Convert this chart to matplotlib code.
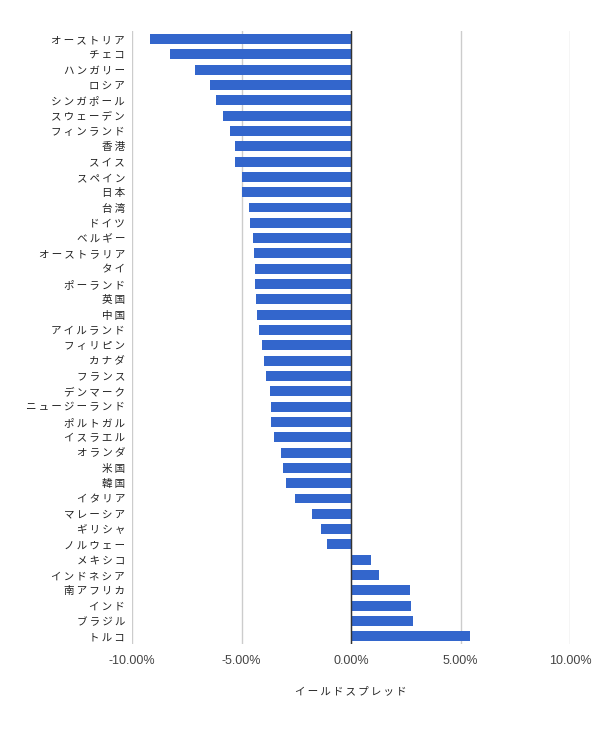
import matplotlib
matplotlib.use("Agg")
import matplotlib.pyplot as plt
from matplotlib.ticker import FuncFormatter

plt.rcParams['font.family'] = ['Noto Sans CJK JP', 'DejaVu Sans']

countries = ["オーストリア", "チェコ", "ハンガリー", "ロシア", "シンガポール", "スウェーデン",
             "フィンランド", "香港", "スイス", "スペイン", "日本", "台湾", "ドイツ", "ベルギー",
             "オーストラリア", "タイ", "ポーランド", "英国", "中国", "アイルランド", "フィリピン",
             "カナダ", "フランス", "デンマーク", "ニュージーランド", "ポルトガル", "イスラエル",
             "オランダ", "米国", "韓国", "イタリア", "マレーシア", "ギリシャ", "ノルウェー",
             "メキシコ", "インドネシア", "南アフリカ", "インド", "ブラジル", "トルコ"]
spread = [-9.18, -8.26, -7.12, -6.44, -6.16, -5.84, -5.52, -5.30, -5.30, -4.98, -4.98,
          -4.66, -4.61, -4.47, -4.43, -4.38, -4.38, -4.34, -4.29, -4.20, -4.06, -3.97,
          -3.88, -3.70, -3.65, -3.65, -3.52, -3.20, -3.11, -2.97, -2.56, -1.78, -1.37,
          -1.10, 0.90, 1.26, 2.68, 2.72, 2.81, 5.42]
xticks = [-10, -5, 0, 5, 10]
xlabel = "イールドスプレッド"


def spaced(s):
    # emulate the loose letter spacing of the reference labels
    return "\u2009".join(s)


fig = plt.figure(figsize=(6.0, 7.29), dpi=100)
ax = fig.add_axes([0.22, 0.1166, 0.73, 0.8404])

y = list(range(len(countries)))
ax.barh(y, spread, height=0.65, color="#3366cc", zorder=3)
ax.set_ylim(len(countries) - 0.5, -0.5)
ax.set_xlim(-10, 10)
ax.set_xticks(xticks)
ax.xaxis.set_major_formatter(FuncFormatter(lambda v, p: f"{v:.2f}%"))
ax.set_yticks(y)
ax.set_yticklabels([spaced(c) for c in countries], fontsize=7.6, color="#222222")
ax.tick_params(axis="x", labelsize=9, colors="#444444", length=0, pad=8)
ax.tick_params(axis="y", length=0, pad=5)
for t in ax.get_xticklabels():
    t.set_family(['Liberation Sans', 'DejaVu Sans'])
ax.grid(axis="x", color="#cccccc", linewidth=1, zorder=0)
ax.axvline(0, color="#333333", linewidth=1, zorder=4)
for s in ax.spines.values():
    s.set_visible(False)
ax.set_xlabel(spaced(xlabel), fontsize=7.6, color="#222222", labelpad=14)

fig.savefig("out.png", dpi=100)
